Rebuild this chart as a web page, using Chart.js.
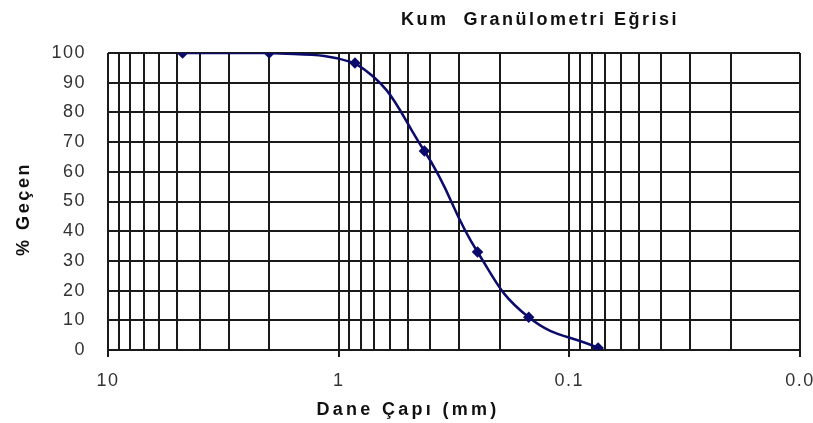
<!DOCTYPE html>
<html>
<head>
<meta charset="utf-8">
<script src="https://cdn.jsdelivr.net/npm/chart.js@4/dist/chart.umd.min.js"></script>
<style>
  html, body { margin: 0; padding: 0; background: #fff; }
  #wrap { width: 813px; height: 423px; }
</style>
</head>
<body>
<div id="wrap"><canvas id="c" width="813" height="423"></canvas></div>
<script>
const sieve   = [4.75, 2, 0.85, 0.425, 0.25, 0.15, 0.075];
const passing = [100, 100, 96.6, 67, 33, 11, 0.7];

const xGrid = [10, 9, 8, 7, 6, 5, 4, 3, 2,
               1, 0.9, 0.8, 0.7, 0.6, 0.5, 0.4, 0.3, 0.2,
               0.1, 0.09, 0.08, 0.07, 0.06, 0.05, 0.04, 0.03, 0.02, 0.01];
const xMajor  = [10, 1, 0.1, 0.01];
const xLabels = ["10", "1", "0.1", "0.0"];

const title  = "Kum  Granülometri Eğrisi";
const xTitle = "Dane Çapı (mm)";
const yTitle = "% Geçen";

const ink  = "#1a1a1a";
const line = "#0b0b6b";
const txt  = "#333";

const titles = {
  id: "titles",
  afterDraw(chart) {
    const ctx = chart.ctx;
    ctx.save();
    ctx.fillStyle = "#111";
    ctx.textAlign = "center";
    ctx.textBaseline = "alphabetic";
    ctx.font = "bold 18px 'Liberation Sans', Arial, sans-serif";
    ctx.letterSpacing = "2.5px";
    ctx.fillText(title, 540, 25);
    ctx.letterSpacing = "3.3px";
    ctx.fillText(xTitle, 408, 415);
    ctx.translate(29, 209);
    ctx.rotate(-Math.PI / 2);
    ctx.letterSpacing = "2.6px";
    ctx.fillText(yTitle, 0, 0);
    ctx.restore();
  },
  beforeDraw(chart) {
    chart.ctx.letterSpacing = "1.5px";
  }
};

new Chart(document.getElementById("c"), {
  type: "line",
  data: {
    datasets: [{
      data: sieve.map((d, i) => ({ x: d, y: passing[i] })),
      borderColor: line,
      backgroundColor: line,
      borderWidth: 2.5,
      tension: 0.45,
      pointStyle: "rectRot",
      pointRadius: 4,
      pointHoverRadius: 4,
      fill: false
    }]
  },
  options: {
    responsive: false,
    animation: false,
    layout: { padding: { left: 0, right: 13, top: 53, bottom: 0 } },
    plugins: { legend: { display: false }, tooltip: { enabled: false }, title: { display: false } },
    scales: {
      x: {
        type: "logarithmic",
        reverse: true,
        min: 0.01,
        max: 10,
        afterBuildTicks: s => { s.ticks = xGrid.map(v => ({ value: v, major: xMajor.includes(v) })); },
        afterFit: s => { s.height = 73; s.paddingLeft = 0; s.paddingRight = 0; },
        ticks: {
          autoSkip: false,
          maxRotation: 0,
          color: txt,
          padding: 13,
          font: { family: "'Liberation Sans', Arial, sans-serif", size: 18 },
          callback: v => { const k = xMajor.indexOf(v); return k >= 0 ? xLabels[k] : ""; }
        },
        grid: {
          color: ink,
          lineWidth: 2,
          tickLength: 7,
          tickColor: c => (c.tick && xMajor.includes(c.tick.value)) ? ink : "rgba(0,0,0,0)"
        },
        border: { display: false }
      },
      y: {
        min: 0,
        max: 100,
        afterFit: s => { s.width = 108; },
        ticks: {
          stepSize: 10,
          color: txt,
          padding: 22,
          font: { family: "'Liberation Sans', Arial, sans-serif", size: 18 }
        },
        grid: { color: ink, lineWidth: 2, drawTicks: false },
        border: { display: false }
      }
    }
  },
  plugins: [titles]
});
</script>
</body>
</html>
